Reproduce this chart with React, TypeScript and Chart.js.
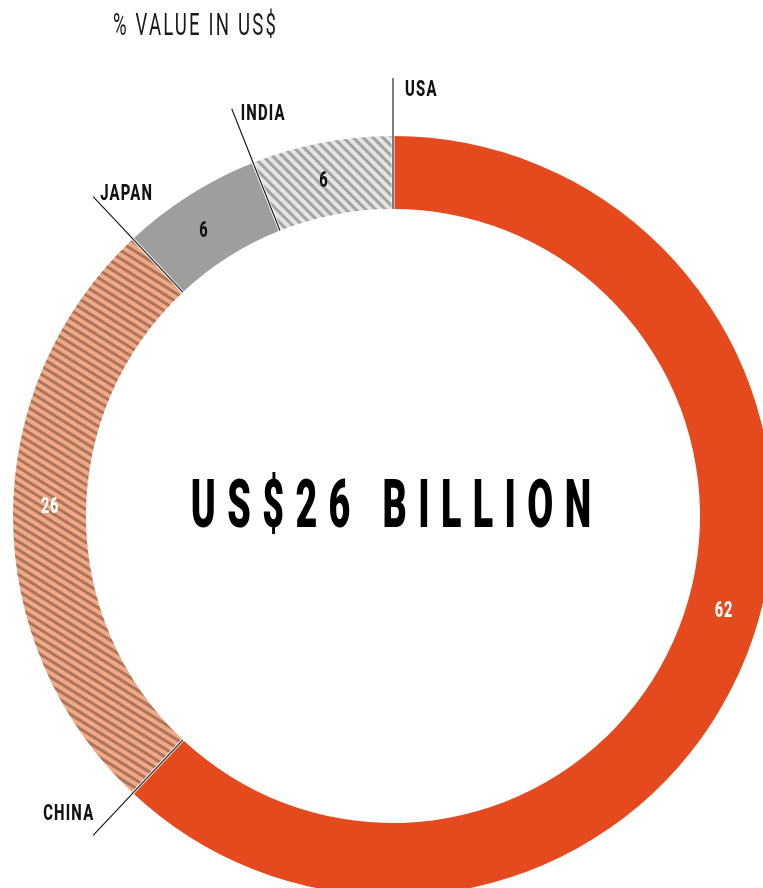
import React, { useEffect, useRef } from 'react';
import { Chart, registerables } from 'chart.js';

Chart.register(...registerables);

// ---- data ----
const categories = ['USA', 'CHINA', 'JAPAN', 'INDIA'];
const values = [62, 26, 6, 6];
const valueLabels = ['62', '26', '6', '6'];
const titleText = '% VALUE IN US$';
const centerText = 'US$26 BILLION';

// ---- layout / style ----
const VIEW_W = 763;
const VIEW_H = 888;
const CANVAS_W = 790;
const CANVAS_H = 910;
const FONT = 'Roboto, "Open Sans", sans-serif';
const CAP = 0.711;

type Align = 'left' | 'right' | 'center';

function drawCondensed(
  ctx: CanvasRenderingContext2D,
  text: string,
  x: number,
  y: number,
  o: { size: number; weight: number; color: string; sx: number; spacing: number; align: Align }
) {
  ctx.save();
  ctx.font = `${o.weight} ${o.size}px ${FONT}`;
  (ctx as any).letterSpacing = `${o.spacing}px`;
  ctx.fillStyle = o.color;
  ctx.textBaseline = 'alphabetic';
  ctx.textAlign = 'left';
  const w = (ctx.measureText(text).width - o.spacing) * o.sx;
  const left = o.align === 'left' ? x : o.align === 'right' ? x - w : x - w / 2;
  ctx.translate(left, y);
  ctx.scale(o.sx, 1);
  ctx.fillText(text, 0, 0);
  ctx.restore();
}

function stripePattern(light: string, dark: string, period: number, darkWidth: number, angle: number) {
  const c = document.createElement('canvas');
  c.width = 16;
  c.height = period;
  const g = c.getContext('2d')!;
  g.fillStyle = light;
  g.fillRect(0, 0, 16, period);
  g.fillStyle = dark;
  g.fillRect(0, 0, 16, darkWidth);
  const p = g.createPattern(c, 'repeat')!;
  p.setTransform(new DOMMatrix().rotate(angle));
  return p;
}

const valueStyle = [
  { color: '#FFFFFF', frac: 0.474 },
  { color: '#FFFFFF', frac: 0.52 },
  { color: '#111111', frac: 0.45 },
  { color: '#111111', frac: 0.46 },
];

const calloutStyle: { dx: number; dy: number; align: Align }[] = [
  { dx: 12, dy: 18, align: 'left' },
  { dx: 0, dy: -15, align: 'right' },
  { dx: 7, dy: 3, align: 'left' },
  { dx: 9, dy: 11, align: 'left' },
];

const overlayPlugin = {
  id: 'overlay',
  afterDatasetsDraw(chart: any) {
    const ctx: CanvasRenderingContext2D = chart.ctx;
    const meta = chart.getDatasetMeta(0);
    let cx = 0;
    let cy = 0;
    meta.data.forEach((el: any, i: number) => {
      const p = el.getProps(['x', 'y', 'startAngle', 'endAngle', 'innerRadius', 'outerRadius'], true);
      cx = p.x;
      cy = p.y;
      const a = p.startAngle;
      const c = Math.cos(a);
      const s = Math.sin(a);
      ctx.save();
      ctx.lineCap = 'butt';
      // white separator
      ctx.strokeStyle = '#FFFFFF';
      ctx.lineWidth = 3;
      ctx.beginPath();
      ctx.moveTo(p.x + (p.innerRadius - 1) * c, p.y + (p.innerRadius - 1) * s);
      ctx.lineTo(p.x + (p.outerRadius + 1) * c, p.y + (p.outerRadius + 1) * s);
      ctx.stroke();
      // black leader line
      const rEnd = p.outerRadius + 58;
      ctx.strokeStyle = '#111111';
      ctx.lineWidth = 1.1;
      ctx.beginPath();
      ctx.moveTo(p.x + p.innerRadius * c, p.y + p.innerRadius * s);
      ctx.lineTo(p.x + rEnd * c, p.y + rEnd * s);
      ctx.stroke();
      ctx.restore();

      // callout label
      const cs = calloutStyle[i];
      drawCondensed(ctx, categories[i], p.x + rEnd * c + cs.dx, p.y + rEnd * s + cs.dy, {
        size: 22.5,
        weight: 800,
        color: '#111111',
        sx: 0.66,
        spacing: 1.8,
        align: cs.align,
      });

      // value label
      const vs = valueStyle[i];
      const am = p.startAngle + (p.endAngle - p.startAngle) * vs.frac;
      const rm = (p.innerRadius + p.outerRadius) / 2;
      const size = 22;
      drawCondensed(ctx, valueLabels[i], p.x + rm * Math.cos(am), p.y + rm * Math.sin(am) + (size * CAP) / 2, {
        size,
        weight: 800,
        color: vs.color,
        sx: 0.66,
        spacing: 1,
        align: 'center',
      });
    });

    // center text
    const cSize = 66;
    drawCondensed(ctx, centerText, cx - 2, cy - 12.5 + (cSize * CAP) / 2, {
      size: cSize,
      weight: 900,
      color: '#000000',
      sx: 0.57,
      spacing: 20,
      align: 'center',
    });

    // title
    drawCondensed(ctx, titleText, 113, 35, {
      size: 31,
      weight: 400,
      color: '#1a1a1a',
      sx: 0.6,
      spacing: 3.6,
      align: 'left',
    });
  },
};

export default function App() {
  const ref = useRef<HTMLCanvasElement | null>(null);

  useEffect(() => {
    const canvas = ref.current;
    if (!canvas) return;
    const chinaPattern = stripePattern('#F3A783', '#A8765E', 7, 3, 32);
    const indiaPattern = stripePattern('#E4E4E4', '#A3A3A3', 7, 3, 45);
    const chart = new Chart(canvas, {
      type: 'doughnut',
      data: {
        labels: categories,
        datasets: [
          {
            data: values,
            backgroundColor: ['#E44A1E', chinaPattern as any, '#9E9E9C', indiaPattern as any],
            borderWidth: 0,
          },
        ],
      },
      options: {
        responsive: false,
        animation: false,
        devicePixelRatio: 1,
        cutout: '80.8%',
        rotation: 0,
        layout: { padding: { left: 13, top: 136, right: CANVAS_W - 773, bottom: CANVAS_H - 896 } },
        plugins: {
          legend: { display: false },
          tooltip: { enabled: false },
        },
      },
      plugins: [overlayPlugin],
    });
    return () => chart.destroy();
  }, []);

  return (
    <div
      style={{
        position: 'absolute',
        left: 0,
        top: 0,
        width: VIEW_W,
        height: VIEW_H,
        overflow: 'hidden',
        background: '#FFFFFF',
      }}
    >
      <canvas ref={ref} width={CANVAS_W} height={CANVAS_H} style={{ display: 'block' }} />
    </div>
  );
}
